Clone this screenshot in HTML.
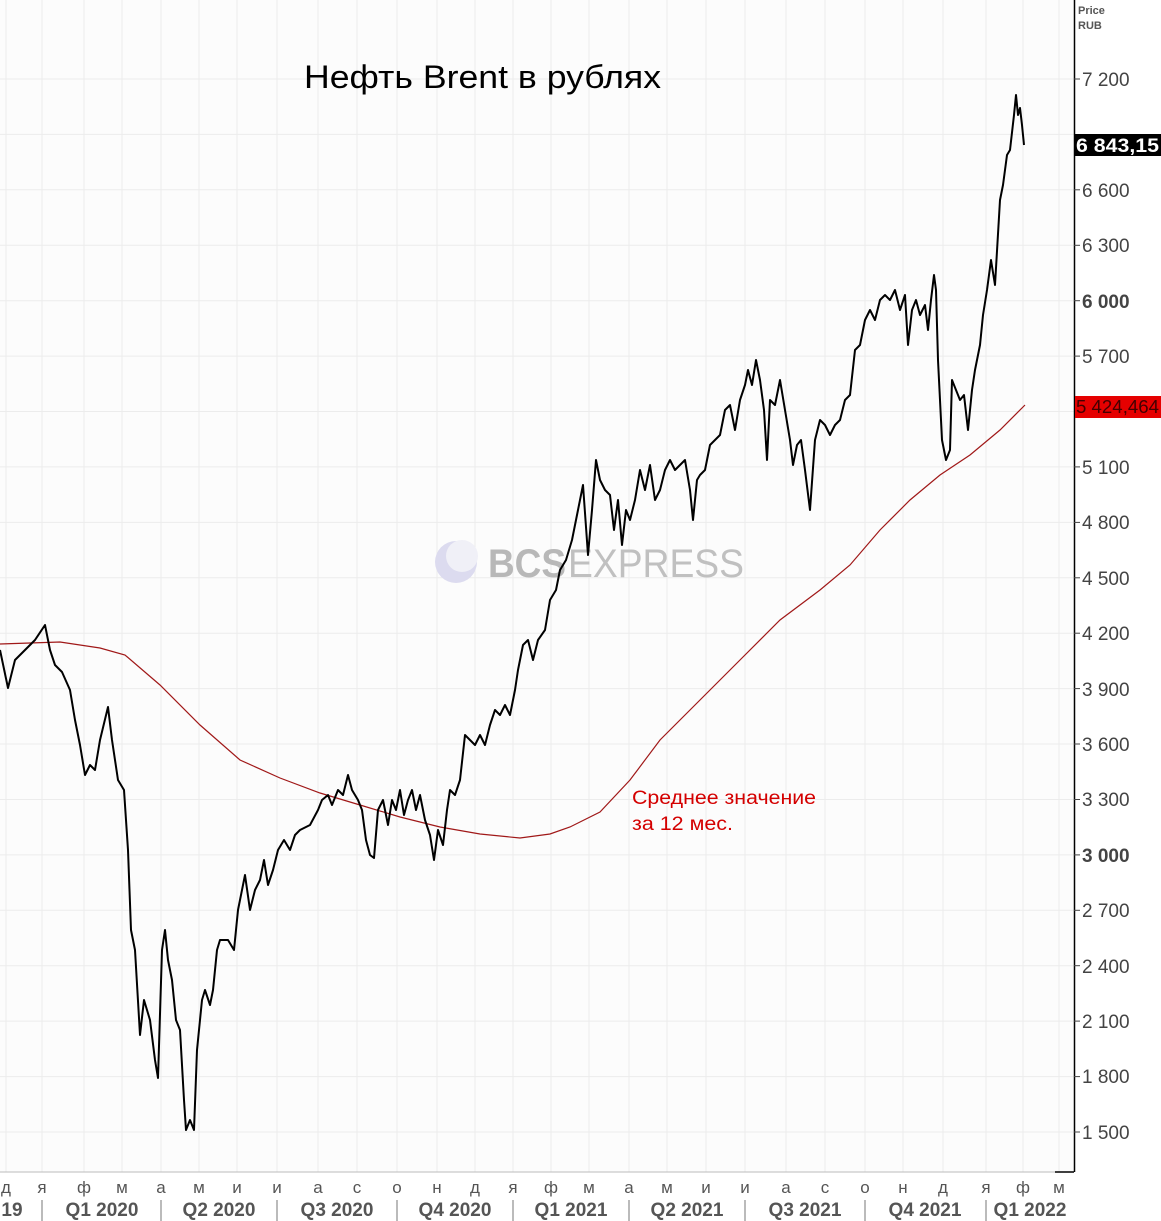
<!DOCTYPE html>
<html><head><meta charset="utf-8"><style>
html,body{margin:0;padding:0;background:#fff;}
svg{display:block;font-family:"Liberation Sans","DejaVu Sans",sans-serif;}
</style></head><body>
<svg width="1161" height="1221" viewBox="0 0 1161 1221" xmlns="http://www.w3.org/2000/svg">
<rect x="0" y="0" width="1074" height="1172" fill="#fcfcfc"/>
<rect x="1074" y="0" width="87" height="1221" fill="#fff"/>
<g stroke="#ececec" stroke-width="1">
<line x1="6" y1="0" x2="6" y2="1172"/><line x1="42" y1="0" x2="42" y2="1172"/><line x1="84" y1="0" x2="84" y2="1172"/><line x1="122" y1="0" x2="122" y2="1172"/><line x1="161" y1="0" x2="161" y2="1172"/><line x1="199" y1="0" x2="199" y2="1172"/><line x1="237" y1="0" x2="237" y2="1172"/><line x1="277" y1="0" x2="277" y2="1172"/><line x1="318" y1="0" x2="318" y2="1172"/><line x1="357" y1="0" x2="357" y2="1172"/><line x1="397" y1="0" x2="397" y2="1172"/><line x1="437" y1="0" x2="437" y2="1172"/><line x1="475" y1="0" x2="475" y2="1172"/><line x1="513" y1="0" x2="513" y2="1172"/><line x1="551" y1="0" x2="551" y2="1172"/><line x1="589" y1="0" x2="589" y2="1172"/><line x1="629" y1="0" x2="629" y2="1172"/><line x1="667" y1="0" x2="667" y2="1172"/><line x1="706" y1="0" x2="706" y2="1172"/><line x1="745" y1="0" x2="745" y2="1172"/><line x1="786" y1="0" x2="786" y2="1172"/><line x1="825" y1="0" x2="825" y2="1172"/><line x1="865" y1="0" x2="865" y2="1172"/><line x1="903" y1="0" x2="903" y2="1172"/><line x1="943" y1="0" x2="943" y2="1172"/><line x1="986" y1="0" x2="986" y2="1172"/><line x1="1023" y1="0" x2="1023" y2="1172"/><line x1="1059" y1="0" x2="1059" y2="1172"/>
<line x1="0" y1="79" x2="1074" y2="79"/><line x1="0" y1="134.4" x2="1074" y2="134.4"/><line x1="0" y1="189.8" x2="1074" y2="189.8"/><line x1="0" y1="245.3" x2="1074" y2="245.3"/><line x1="0" y1="300.7" x2="1074" y2="300.7"/><line x1="0" y1="356.1" x2="1074" y2="356.1"/><line x1="0" y1="411.5" x2="1074" y2="411.5"/><line x1="0" y1="466.9" x2="1074" y2="466.9"/><line x1="0" y1="522.4" x2="1074" y2="522.4"/><line x1="0" y1="577.8" x2="1074" y2="577.8"/><line x1="0" y1="633.2" x2="1074" y2="633.2"/><line x1="0" y1="688.6" x2="1074" y2="688.6"/><line x1="0" y1="744" x2="1074" y2="744"/><line x1="0" y1="799.5" x2="1074" y2="799.5"/><line x1="0" y1="854.9" x2="1074" y2="854.9"/><line x1="0" y1="910.3" x2="1074" y2="910.3"/><line x1="0" y1="965.7" x2="1074" y2="965.7"/><line x1="0" y1="1021.1" x2="1074" y2="1021.1"/><line x1="0" y1="1076.6" x2="1074" y2="1076.6"/><line x1="0" y1="1132" x2="1074" y2="1132"/>
</g>
<!-- watermark -->
<circle cx="456" cy="562" r="21" fill="#dcdbef"/>
<circle cx="462" cy="556" r="16" fill="#f0f0f7"/>
<text x="488" y="577" font-size="40" font-weight="bold" fill="#b8b8b8" textLength="78" lengthAdjust="spacingAndGlyphs">BCS</text>
<text x="568" y="577" font-size="40" fill="#c0c0c0" textLength="176" lengthAdjust="spacingAndGlyphs">EXPRESS</text>
<text x="304" y="88" font-size="32" fill="#000" textLength="357" lengthAdjust="spacingAndGlyphs">Нефть Brent в рублях</text>
<text x="632" y="804" font-size="19" fill="#d40000" textLength="184" lengthAdjust="spacingAndGlyphs">Среднее значение</text>
<text x="632" y="830" font-size="19" fill="#d40000" textLength="101" lengthAdjust="spacingAndGlyphs">за 12 мес.</text>
<polyline fill="none" stroke="#a01818" stroke-width="1.2" points="0,644 60,642 100,648 125,655 160,685 200,725 240,760 280,778 320,793 360,805 400,817 440,827 480,834 520,838 550,834 570,827 600,812 630,780 660,740 700,700 740,660 780,620 820,590 850,565 880,530 910,500 940,475 970,455 1000,430 1025,405"/>
<polyline fill="none" stroke="#000" stroke-width="2" stroke-linejoin="round" points="0,650 8,688 15,660 25,650 35,640 45,625 50,650 55,665 62,672 70,690 75,720 80,745 85,775 90,765 95,770 100,740 108,707 112,740 118,780 124,790 128,850 131,930 135,950 140,1035 144,1000 150,1020 155,1060 158,1078 162,950 165,930 168,960 172,980 176,1020 180,1030 184,1100 186,1130 190,1120 194,1130 197,1050 202,1000 205,990 210,1005 213,990 217,950 220,940 228,940 234,950 238,910 245,875 250,910 255,890 260,880 264,860 268,885 273,870 278,850 284,840 290,850 295,835 300,830 310,825 318,810 322,800 328,795 332,805 338,790 343,795 348,775 352,790 358,800 362,810 366,840 370,855 374,858 378,810 383,800 388,825 392,800 396,810 400,790 404,815 408,800 412,790 416,810 420,795 425,820 430,835 434,860 438,830 443,845 447,810 450,790 455,795 460,780 465,735 470,740 475,745 480,735 485,745 490,725 495,710 500,715 505,705 510,715 515,690 518,670 523,645 528,640 533,660 538,640 545,630 550,600 556,590 560,570 566,560 572,540 578,510 583,485 588,555 592,510 596,460 600,480 605,490 610,495 614,530 618,500 622,545 626,510 630,520 635,500 640,470 645,490 650,465 655,500 660,490 665,470 670,460 675,470 680,465 685,460 690,490 693,520 697,480 700,475 705,470 710,445 715,440 720,435 725,410 730,405 735,430 740,400 745,385 748,370 752,385 756,360 760,380 764,410 767,460 770,400 775,405 780,380 785,410 790,440 793,465 797,445 801,440 805,470 810,510 815,440 820,420 825,425 830,435 835,425 840,420 845,400 850,395 855,350 860,345 865,320 870,310 875,320 880,300 885,295 890,300 895,290 900,310 905,295 908,345 912,310 916,300 920,315 925,305 928,330 931,300 934,275 936,290 938,360 942,440 946,460 950,450 952,380 956,390 960,400 964,395 968,430 972,390 975,370 980,345 983,315 987,290 991,260 995,285 1000,200 1003,185 1007,155 1010,150 1014,115 1016,95 1018,115 1020,108 1022,125 1024,145"/>
<!-- axes -->
<line x1="1074.5" y1="0" x2="1074.5" y2="1172" stroke="#000" stroke-width="1.5"/>
<line x1="0" y1="1172" x2="1074" y2="1172" stroke="#bbb" stroke-width="1"/>
<line x1="1055" y1="1172" x2="1074" y2="1172" stroke="#000" stroke-width="1.5"/>
<g font-size="19" fill="#444">
<text x="1082" y="86">7 200</text><text x="1082" y="197">6 600</text><text x="1082" y="252">6 300</text><text x="1082" y="308" font-weight="bold">6 000</text><text x="1082" y="363">5 700</text><text x="1082" y="474">5 100</text><text x="1082" y="529">4 800</text><text x="1082" y="585">4 500</text><text x="1082" y="640">4 200</text><text x="1082" y="696">3 900</text><text x="1082" y="751">3 600</text><text x="1082" y="806">3 300</text><text x="1082" y="862" font-weight="bold">3 000</text><text x="1082" y="917">2 700</text><text x="1082" y="973">2 400</text><text x="1082" y="1028">2 100</text><text x="1082" y="1083">1 800</text><text x="1082" y="1139">1 500</text>
</g>
<g stroke="#444"><line x1="1074" y1="79" x2="1080" y2="79"/><line x1="1074" y1="189.8" x2="1080" y2="189.8"/><line x1="1074" y1="245.3" x2="1080" y2="245.3"/><line x1="1074" y1="300.7" x2="1080" y2="300.7"/><line x1="1074" y1="356.1" x2="1080" y2="356.1"/><line x1="1074" y1="466.9" x2="1080" y2="466.9"/><line x1="1074" y1="522.4" x2="1080" y2="522.4"/><line x1="1074" y1="577.8" x2="1080" y2="577.8"/><line x1="1074" y1="633.2" x2="1080" y2="633.2"/><line x1="1074" y1="688.6" x2="1080" y2="688.6"/><line x1="1074" y1="744" x2="1080" y2="744"/><line x1="1074" y1="799.5" x2="1080" y2="799.5"/><line x1="1074" y1="854.9" x2="1080" y2="854.9"/><line x1="1074" y1="910.3" x2="1080" y2="910.3"/><line x1="1074" y1="965.7" x2="1080" y2="965.7"/><line x1="1074" y1="1021.1" x2="1080" y2="1021.1"/><line x1="1074" y1="1076.6" x2="1080" y2="1076.6"/><line x1="1074" y1="1132" x2="1080" y2="1132"/></g>
<text x="1078" y="14" font-size="11" font-weight="bold" fill="#555">Price</text>
<text x="1078" y="29" font-size="11" font-weight="bold" fill="#555">RUB</text>
<rect x="1075" y="134" width="86" height="22" fill="#000"/>
<text x="1076" y="152" font-size="19" font-weight="bold" fill="#fff" textLength="83" lengthAdjust="spacingAndGlyphs">6 843,15</text>
<rect x="1075" y="396" width="86" height="22" fill="#e50000"/>
<text x="1076" y="413" font-size="18" fill="#400" textLength="83" lengthAdjust="spacingAndGlyphs">5 424,464</text>
<!-- x axis -->
<g font-size="17" fill="#555" text-anchor="middle">
<text x="6" y="1193">д</text><text x="42" y="1193">я</text><text x="84" y="1193">ф</text><text x="122" y="1193">м</text><text x="161" y="1193">а</text><text x="199" y="1193">м</text><text x="237" y="1193">и</text><text x="277" y="1193">и</text><text x="318" y="1193">а</text><text x="357" y="1193">с</text><text x="397" y="1193">о</text><text x="437" y="1193">н</text><text x="475" y="1193">д</text><text x="513" y="1193">я</text><text x="551" y="1193">ф</text><text x="589" y="1193">м</text><text x="629" y="1193">а</text><text x="667" y="1193">м</text><text x="706" y="1193">и</text><text x="745" y="1193">и</text><text x="786" y="1193">а</text><text x="825" y="1193">с</text><text x="865" y="1193">о</text><text x="903" y="1193">н</text><text x="943" y="1193">д</text><text x="986" y="1193">я</text><text x="1023" y="1193">ф</text><text x="1059" y="1193">м</text>
</g>
<g font-size="19" font-weight="bold" fill="#555" text-anchor="middle">
<text x="12" y="1216">19</text><text x="102" y="1216">Q1 2020</text><text x="219" y="1216">Q2 2020</text><text x="337" y="1216">Q3 2020</text><text x="455" y="1216">Q4 2020</text><text x="571" y="1216">Q1 2021</text><text x="687" y="1216">Q2 2021</text><text x="805" y="1216">Q3 2021</text><text x="925" y="1216">Q4 2021</text><text x="1030" y="1216">Q1 2022</text>
</g>
<g stroke="#777" stroke-width="1"><line x1="42" y1="1200" x2="42" y2="1221"/><line x1="161" y1="1200" x2="161" y2="1221"/><line x1="277" y1="1200" x2="277" y2="1221"/><line x1="397" y1="1200" x2="397" y2="1221"/><line x1="513" y1="1200" x2="513" y2="1221"/><line x1="629" y1="1200" x2="629" y2="1221"/><line x1="745" y1="1200" x2="745" y2="1221"/><line x1="865" y1="1200" x2="865" y2="1221"/><line x1="986" y1="1200" x2="986" y2="1221"/></g>
</svg>
</body></html>
